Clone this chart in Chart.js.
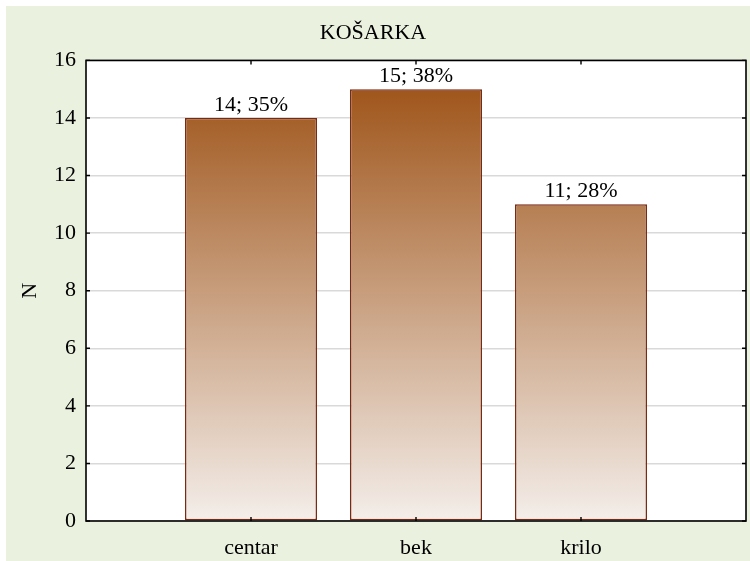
<!DOCTYPE html>
<html>
<head>
<meta charset="utf-8">
<script src="https://cdn.jsdelivr.net/npm/chart.js@4"></script>
<style>
  body { margin: 0; background: #fff; }
  canvas { display: block; }
</style>
</head>
<body>
<canvas id="chart" width="750" height="561"></canvas>
<script>
const categories = ['centar', 'bek', 'krilo'];
const counts = [14, 15, 11];
const percents = [35, 38, 28];
const yTicks = [0, 2, 4, 6, 8, 10, 12, 14, 16];

const FONT = "'Liberation Serif', 'Times New Roman', serif";

// empty slots at both ends give the 4-slot spacing of the original
const labels = [''].concat(categories, ['']);
const values = [null].concat(counts, [null]);

const backdrop = {
    id: 'backdrop',
    beforeDraw(chart) {
        const {ctx, chartArea: a} = chart;
        ctx.save();
        ctx.fillStyle = '#fff';
        ctx.fillRect(0, 0, chart.width, chart.height);
        ctx.fillStyle = '#eaf1de';
        ctx.fillRect(6, 6, chart.width - 6, chart.height - 6);
        ctx.fillStyle = '#fff';
        ctx.fillRect(a.left, a.top, a.right - a.left, a.bottom - a.top);
        ctx.restore();
    }
};

const frame = {
    id: 'frame',
    afterDatasetsDraw(chart) {
        const {ctx, chartArea: a, scales: {x, y}} = chart;
        ctx.save();

        // value labels above bars
        const meta = chart.getDatasetMeta(0);
        ctx.font = '22px ' + FONT;
        ctx.fillStyle = '#000';
        ctx.textAlign = 'center';
        ctx.textBaseline = 'bottom';
        meta.data.forEach((bar, i) => {
            if (values[i] === null) return;
            const k = i - 1;
            ctx.fillText(counts[k] + '; ' + percents[k] + '%', bar.x, bar.y - 2);
        });

        ctx.strokeStyle = '#000';
        ctx.lineWidth = 1.6;
        ctx.strokeRect(a.left, a.top, a.right - a.left, a.bottom - a.top);

        // inward tick marks
        ctx.lineWidth = 1.4;
        ctx.beginPath();
        categories.forEach((c, i) => {
            const px = x.getPixelForValue(i + 1);
            ctx.moveTo(px, a.bottom); ctx.lineTo(px, a.bottom - 4);
            ctx.moveTo(px, a.top); ctx.lineTo(px, a.top + 4);
        });
        yTicks.forEach(t => {
            const py = y.getPixelForValue(t);
            ctx.moveTo(a.left, py); ctx.lineTo(a.left + 4, py);
            ctx.moveTo(a.right, py); ctx.lineTo(a.right - 4, py);
        });
        ctx.stroke();
        ctx.restore();
    }
};

function barGradient(context) {
    const chart = context.chart;
    const y = chart.scales.y;
    if (!chart.chartArea || !y) return '#b07040';
    const top = y.getPixelForValue(16);
    const bottom = y.getPixelForValue(0);
    if (!Number.isFinite(top) || !Number.isFinite(bottom)) return '#b07040';
    const g = chart.ctx.createLinearGradient(0, top, 0, bottom);
    g.addColorStop(0, 'rgb(154, 76, 14)');
    g.addColorStop(1, 'rgb(244, 238, 234)');
    return g;
}

new Chart(document.getElementById('chart'), {
    type: 'bar',
    data: {
        labels: labels,
        datasets: [{
            data: values,
            backgroundColor: barGradient,
            borderColor: '#7b2a12',
            borderWidth: 1.5,
            borderSkipped: false,
            categoryPercentage: 1,
            barPercentage: 0.8
        }]
    },
    options: {
        responsive: false,
        animation: false,
        layout: { padding: { left: 0, right: 4, top: 0, bottom: 0 } },
        plugins: {
            legend: { display: false },
            tooltip: { enabled: false },
            title: {
                display: true,
                text: 'KOŠARKA',
                color: '#000',
                font: { family: FONT, size: 22, weight: 'normal' },
                padding: { top: 20, bottom: 14 }
            }
        },
        scales: {
            x: {
                offset: false,
                grid: { display: false },
                border: { display: false },
                ticks: {
                    color: '#000',
                    font: { family: FONT, size: 22 },
                    padding: 6,
                    maxRotation: 0,
                    autoSkip: false
                },
                afterFit(scale) {
                    scale.height = 40;
                    scale.paddingLeft = 0;
                    scale.paddingRight = 0;
                }
            },
            y: {
                min: 0,
                max: 16,
                afterBuildTicks(scale) { scale.ticks = yTicks.map(v => ({value: v})); },
                grid: { color: '#d9d9d9', lineWidth: 1.5, drawTicks: false },
                border: { display: false },
                ticks: {
                    color: '#000',
                    font: { family: FONT, size: 22 },
                    padding: 10
                },
                title: {
                    display: true,
                    text: 'N',
                    color: '#000',
                    font: { family: FONT, size: 22 },
                    padding: { top: 17, bottom: 0 }
                },
                afterFit(scale) { scale.width = 86; }
            }
        }
    },
    plugins: [backdrop, frame]
});
</script>
</body>
</html>
